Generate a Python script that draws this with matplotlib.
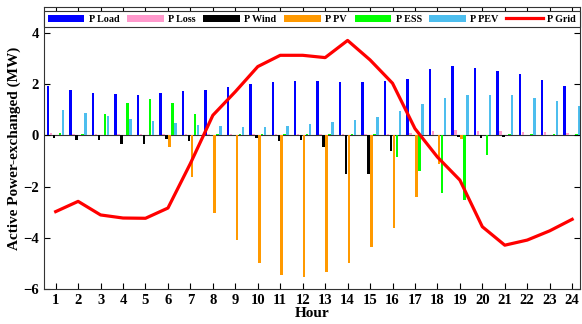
import numpy as np
import matplotlib
matplotlib.use("Agg")
import matplotlib.pyplot as plt

plt.rcParams["font.family"] = ["Liberation Serif", "DejaVu Serif"]
plt.rcParams["font.weight"] = "bold"

hours = np.arange(1, 25)

# series values (MW)
p_load = [1.92, 1.76, 1.66, 1.61, 1.59, 1.64, 1.72, 1.78, 1.88, 2.00, 2.08, 2.10,
          2.12, 2.09, 2.09, 2.10, 2.20, 2.59, 2.70, 2.61, 2.52, 2.38, 2.16, 1.92]
p_loss = [0.08, 0.05, 0.05, 0.04, 0.04, 0.04, 0.05, 0.03, 0.03, 0.03, 0.03, 0.03,
          0.03, 0.03, 0.04, 0.05, 0.08, 0.15, 0.20, 0.17, 0.15, 0.13, 0.12, 0.10]
p_wind = [-0.09, -0.20, -0.20, -0.35, -0.35, -0.13, -0.22, 0.0, 0.0, -0.11, -0.21, -0.20,
          -0.46, -1.52, -1.52, -0.63, 0.0, 0.0, -0.06, -0.10, -0.06, 0.0, 0.0, 0.0]
p_pv = [0.0, 0.0, 0.0, 0.0, 0.0, -0.46, -1.63, -3.03, -4.09, -5.00, -5.45, -5.55,
        -5.32, -5.00, -4.38, -3.63, -2.42, -1.14, -0.13, 0.0, 0.0, 0.0, 0.0, 0.0]
p_ess = [0.07, 0.06, 0.84, 1.25, 1.41, 1.25, 0.84, 0.06, 0.05, 0.05, 0.05, 0.05,
         0.05, 0.05, 0.05, -0.85, -1.41, -2.26, -2.52, -0.76, 0.05, 0.05, 0.05, 0.05]
p_pev = [1.00, 0.86, 0.75, 0.64, 0.55, 0.46, 0.39, 0.35, 0.33, 0.33, 0.37, 0.43,
         0.51, 0.59, 0.72, 0.95, 1.23, 1.46, 1.56, 1.57, 1.56, 1.46, 1.33, 1.16]
p_grid = [-2.98, -2.58, -3.11, -3.23, -3.24, -2.84, -1.10, 0.78, 1.70, 2.68, 3.12, 3.12,
          3.03, 3.70, 2.94, 2.03, 0.26, -0.85, -1.75, -3.57, -4.29, -4.09, -3.73, -3.28]

bar_series = [p_load, p_loss, p_wind, p_pv, p_ess, p_pev]
bar_labels = ["P Load", "P Loss", "P Wind", "P PV", "P ESS", "P PEV"]
bar_colors = ["#0000FF", "#FF99CC", "#000000", "#FF9900", "#00FF00", "#4DBEEE"]

fig = plt.figure(figsize=(5.82, 3.24), dpi=100)
ax = fig.add_axes([0.0756, 0.108, 0.921, 0.870])

step = 0.133
width = 0.11
handles = []
for i, (vals, lab, col) in enumerate(zip(bar_series, bar_labels, bar_colors)):
    offset = (i - 2.5) * step
    b = ax.bar(hours + offset, vals, width=width, color=col, label=lab, zorder=2)
    handles.append(b)

line, = ax.plot(hours, p_grid, color="#FF0000", lw=2.3, label="P Grid", zorder=3)
handles.append(line)
ax.axhline(0, color="#333333", lw=0.8, zorder=1)

ax.set_xlim(0.48, 24.35)
ax.set_ylim(-6, 5)
ax.set_xticks(hours)
ax.set_yticks([-6, -4, -2, 0, 2, 4])
ax.tick_params(direction="in", top=True, right=True, labelsize=10.5, length=4)
for s in ax.spines.values():
    s.set_color("#333333")

ax.set_xlabel("Hour", fontsize=11, fontweight="bold", labelpad=0)
ax.set_ylabel("Active Power-exchanged (MW)", fontsize=11, fontweight="bold", labelpad=2)

leg = ax.legend(handles=handles, labels=bar_labels + ["P Grid"],
                loc="upper center", bbox_to_anchor=(0.5, 0.99),
                ncol=7, handlelength=3.6, handleheight=0.8,
                columnspacing=0.75, handletextpad=0.45, borderaxespad=0.1,
                borderpad=0.35, fancybox=False, edgecolor="#333333", framealpha=1,
                prop={"weight": "bold", "size": 7.3})
leg.get_frame().set_linewidth(0.8)

fig.savefig("out.png", dpi=100)
